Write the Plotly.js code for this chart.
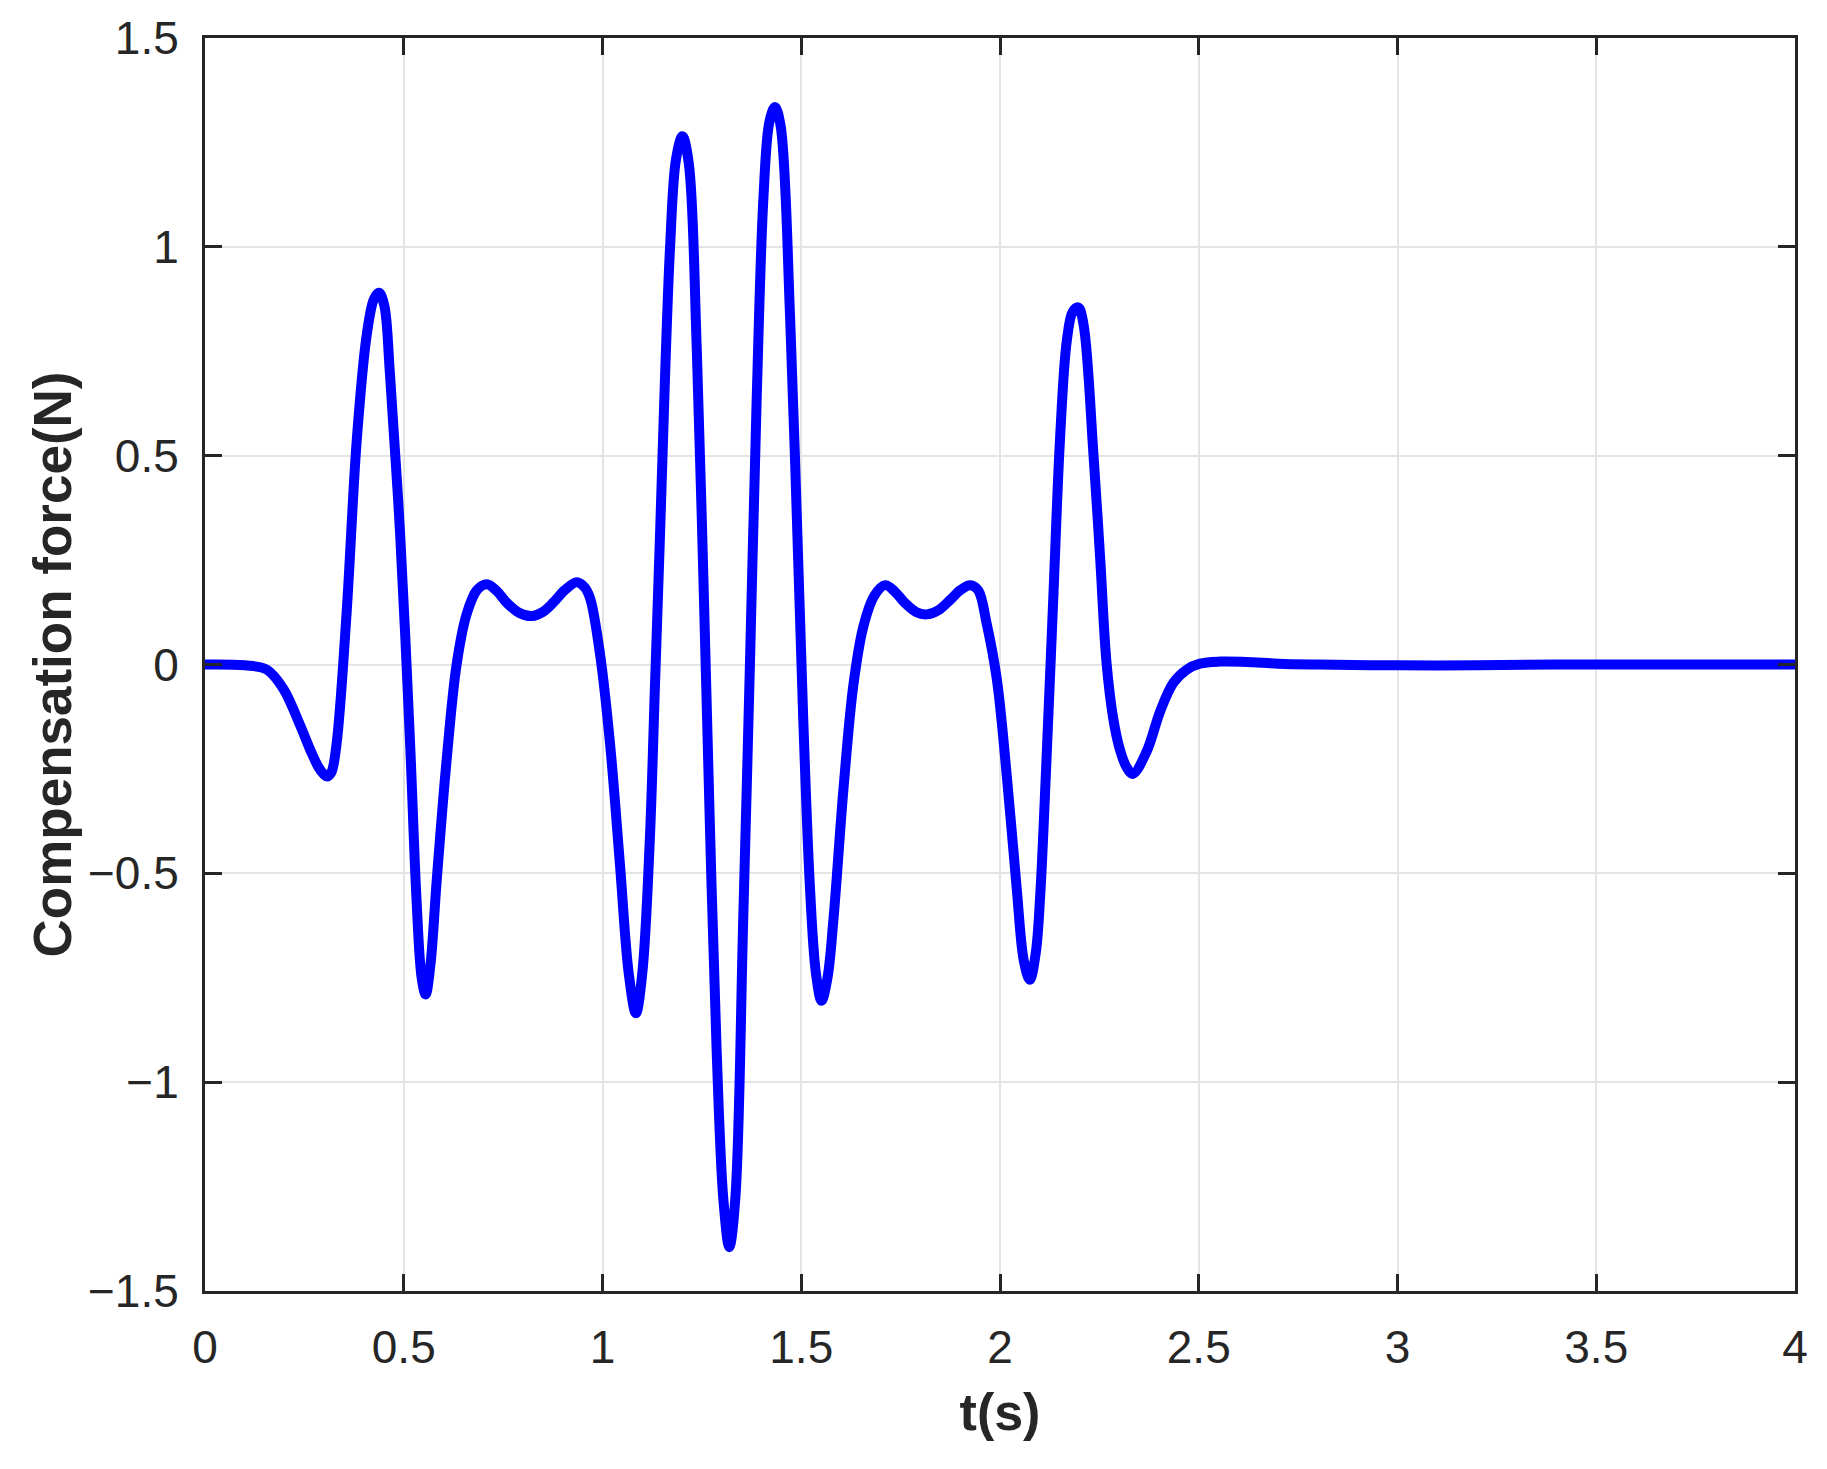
<!DOCTYPE html>
<html>
<head>
<meta charset="utf-8">
<script src="https://cdn.plot.ly/plotly-3.0.1.min.js"></script>
<style>
  html, body { margin: 0; padding: 0; background: #fff; }
  #chart { width: 1827px; height: 1469px; }
</style>
</head>
<body>
<div id="chart"></div>
<script>
// Compensation force vs time
const tData = [
  0, 0.10, 0.155, 0.197, 0.239, 0.265, 0.285, 0.298, 0.308, 0.318, 0.331, 0.356, 0.382, 0.407, 0.425, 0.438,
  0.451, 0.465, 0.491, 0.516, 0.532, 0.545, 0.555, 0.567, 0.583, 0.608, 0.633, 0.658, 0.684, 0.709,
  0.735, 0.759, 0.79, 0.822, 0.85, 0.876, 0.905, 0.935, 0.955, 0.969, 0.994, 1.019, 1.044, 1.066,
  1.084, 1.100, 1.119, 1.132, 1.145, 1.157, 1.170, 1.185, 1.201, 1.217, 1.237, 1.254, 1.270, 1.287,
  1.304, 1.319, 1.334, 1.354, 1.371, 1.388, 1.405, 1.420, 1.434, 1.448, 1.472, 1.489, 1.505, 1.522,
  1.537, 1.551, 1.566, 1.581, 1.606, 1.631, 1.656, 1.684, 1.711, 1.735, 1.76, 1.79, 1.816, 1.845,
  1.875, 1.90, 1.925, 1.945, 1.966, 1.992, 2.017, 2.042, 2.060, 2.075, 2.090, 2.101, 2.117, 2.134,
  2.151, 2.168, 2.183, 2.197, 2.210, 2.235, 2.252, 2.268, 2.285, 2.302, 2.318, 2.334, 2.369, 2.403,
  2.436, 2.470, 2.503, 2.553, 2.62, 2.70, 2.8, 3.0, 3.2, 3.4, 4.0
];
const forceData = [
  0, -0.002, -0.012, -0.058, -0.145, -0.205, -0.245, -0.262, -0.268, -0.258, -0.19, 0.12, 0.54, 0.79, 0.875, 0.89,
  0.86, 0.70, 0.31, -0.19, -0.56, -0.75, -0.79, -0.72, -0.516, -0.227, 0.0, 0.12, 0.178, 0.192,
  0.175, 0.148, 0.124, 0.116, 0.126, 0.148, 0.178, 0.197, 0.185, 0.158, 0.023, -0.19, -0.48, -0.74,
  -0.835, -0.74, -0.42, -0.05, 0.32, 0.68, 1.0, 1.21, 1.265, 1.20, 0.76, 0.20, -0.38, -0.92,
  -1.28, -1.395, -1.28, -0.61, 0.004, 0.64, 1.12, 1.30, 1.335, 1.29, 0.83, 0.35, -0.13, -0.536,
  -0.74, -0.805, -0.75, -0.61, -0.30, -0.05, 0.09, 0.165, 0.19, 0.175, 0.148, 0.125, 0.12, 0.13,
  0.155, 0.178, 0.19, 0.178, 0.10, -0.035, -0.266, -0.536, -0.71, -0.755, -0.69, -0.555, -0.227, 0.158,
  0.54, 0.775, 0.845, 0.855, 0.815, 0.505, 0.254, 0.004, -0.13, -0.205, -0.245, -0.262, -0.208, -0.112,
  -0.044, -0.012, 0.002, 0.007, 0.006, 0.002, 0, -0.002, -0.002, 0, 0
];

const xTicks = [0, 0.5, 1, 1.5, 2, 2.5, 3, 3.5, 4];
const xTickText = ['0', '0.5', '1', '1.5', '2', '2.5', '3', '3.5', '4'];
const yTicks = [-1.5, -1, -0.5, 0, 0.5, 1, 1.5];
const yTickText = ['\u22121.5', '\u22121', '\u22120.5', '0', '0.5', '1', '1.5'];

const axisColor = '#262626';
const fontFamily = '"Liberation Sans", Arial, sans-serif';

const trace = {
  x: tData, y: forceData,
  type: 'scatter', mode: 'lines',
  line: { color: '#0000ff', width: 10, shape: 'spline', smoothing: 1 },
  hoverinfo: 'skip'
};

const commonAxis = {
  showline: true, linecolor: axisColor, linewidth: 3,
  mirror: 'ticks',
  ticks: 'inside', ticklen: 17, tickwidth: 3, tickcolor: axisColor,
  showgrid: true, gridcolor: '#e4e4e4', gridwidth: 2,
  zeroline: false,
  tickfont: { family: fontFamily, size: 46, color: axisColor },
  automargin: false
};

const layout = {
  width: 1827, height: 1469,
  paper_bgcolor: '#fff', plot_bgcolor: '#fff',
  margin: { l: 205, r: 32, t: 38, b: 178 },
  showlegend: false,
  xaxis: {
    ...commonAxis,
    range: [0, 4],
    tickvals: xTicks, ticktext: xTickText,
    ticklabelstandoff: 14,
    title: { text: 't(s)', font: { family: fontFamily, size: 52, color: axisColor, weight: 'bold' }, standoff: 22 }
  },
  yaxis: {
    ...commonAxis,
    range: [-1.5, 1.5],
    tickvals: yTicks, ticktext: yTickText,
    ticklabelstandoff: 14,
    title: { text: 'Compensation force(N)', font: { family: fontFamily, size: 53, color: axisColor, weight: 'bold' }, standoff: 0 }
  }
};

Plotly.newPlot('chart', [trace], layout, { staticPlot: true, displayModeBar: false });
</script>
</body>
</html>
